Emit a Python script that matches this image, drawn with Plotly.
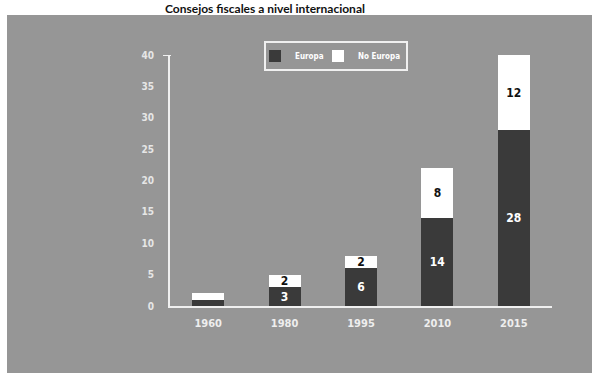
import plotly.graph_objects as go

years = ["1960", "1980", "1995", "2010", "2015"]
europa = [1, 3, 6, 14, 28]
no_europa = [1, 2, 2, 8, 12]
europa_labels = ["", "3", "6", "14", "28"]
no_europa_labels = ["", "2", "2", "8", "12"]
y_ticks = [0, 5, 10, 15, 20, 25, 30, 35, 40]
title_text = "Consejos fiscales a nivel internacional"

GRAY = "#969696"
DARK = "#3a3a3a"
AXIS = "#f0f0f0"
FONT = "Liberation Sans Narrow, DejaVu Sans Condensed, Arial Narrow, sans-serif"

W, H = 592, 373
L, R, T, B = 170, 40, 55, 67
pw, ph = W - L - R, H - T - B

def px_x(p):
    return (p - L) / pw

def px_y(p):
    return (H - B - p) / ph

fig = go.Figure()
fig.add_trace(go.Bar(
    x=years, y=europa, name="Europa", width=0.42, legend="legend",
    marker=dict(color=DARK, line=dict(width=0)),
    text=europa_labels, textposition="inside", insidetextanchor="middle",
    textangle=0, constraintext="none",
    textfont=dict(color="white", size=12, family=FONT, weight="bold"),
))
fig.add_trace(go.Bar(
    x=years, y=no_europa, name="No Europa", width=0.42, legend="legend2",
    marker=dict(color="white", line=dict(width=0)),
    text=no_europa_labels, textposition="inside", insidetextanchor="middle",
    textangle=0, constraintext="none",
    textfont=dict(color="#111111", size=12, family=FONT, weight="bold"),
))

leg_common = dict(
    orientation="h", yanchor="middle", xanchor="left",
    bgcolor="rgba(0,0,0,0)", borderwidth=0,
    font=dict(color="white", size=8, family=FONT, weight="bold"),
    itemwidth=30,
)

fig.update_layout(
    width=W, height=H, barmode="stack",
    margin=dict(l=L, r=R, t=T, b=B, pad=0),
    paper_bgcolor=GRAY, plot_bgcolor="rgba(0,0,0,0)",
    font=dict(family=FONT, color=AXIS, size=11, weight="bold"),
    showlegend=True,
    legend=dict(x=px_x(255), y=px_y(56), **leg_common),
    legend2=dict(x=px_x(318), y=px_y(56), **leg_common),
    xaxis=dict(
        type="category", range=[-0.5, 4.5], showgrid=False, zeroline=False,
        showline=True, linecolor=AXIS, linewidth=2, ticks="", fixedrange=True,
        tickfont=dict(color="#eeeeee", size=11, family=FONT, weight="bold"),
        ticklabelstandoff=6,
    ),
    yaxis=dict(
        range=[0, 40], tickvals=y_ticks, showgrid=False, zeroline=False,
        showline=True, linecolor=AXIS, linewidth=2, ticks="",
        tickfont=dict(color="#e6e6e6", size=10, family=FONT, weight="bold"),
        ticklabelstandoff=12,
    ),
    shapes=[
        dict(type="rect", xref="paper", yref="paper",
             x0=px_x(0), x1=px_x(W), y0=px_y(15), y1=px_y(-5),
             fillcolor="white", line=dict(width=0), layer="below"),
        dict(type="rect", xref="paper", yref="paper",
             x0=px_x(-5), x1=px_x(7), y0=px_y(H + 5), y1=px_y(-5),
             fillcolor="white", line=dict(width=0), layer="below"),
        dict(type="line", xref="paper", yref="y",
             x0=px_x(163), x1=px_x(171), y0=40, y1=40,
             line=dict(color=AXIS, width=2)),
        dict(type="rect", xref="paper", yref="paper",
             x0=px_x(265), x1=px_x(407), y0=px_y(70), y1=px_y(42),
             fillcolor="rgba(0,0,0,0)", line=dict(color=AXIS, width=2)),
    ],
    annotations=[
        dict(text=title_text, xref="paper", yref="paper",
             x=px_x(265), y=px_y(0), xanchor="center", yanchor="top",
             showarrow=False, borderpad=0,
             font=dict(family="Lato, DejaVu Sans, sans-serif", size=12, color="#111111")),
    ],
)

fig.write_html("out.html")
